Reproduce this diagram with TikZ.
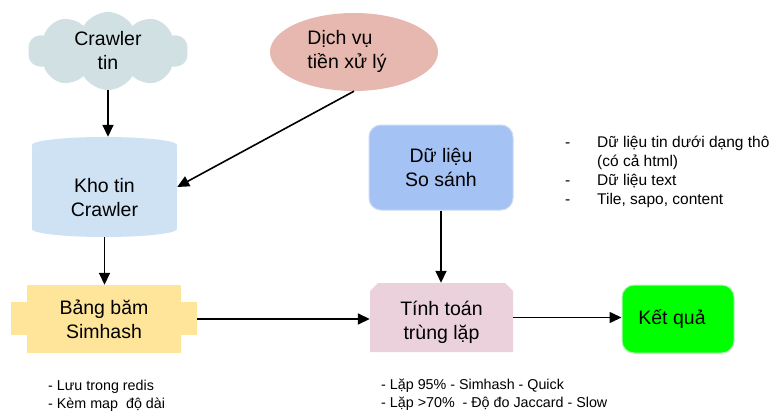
\documentclass[tikz,border=0pt]{standalone}
\usepackage{fontspec}
\setmainfont{Liberation Sans}
\usetikzlibrary{shapes.geometric,shapes.symbols,arrows.meta}
\definecolor{cloudc}{HTML}{D0E0E3}
\definecolor{dichc}{HTML}{E6B8AF}
\definecolor{cylc}{HTML}{CFE2F3}
\definecolor{bangc}{HTML}{FFE599}
\definecolor{duc}{HTML}{A4C2F4}
\definecolor{duborder}{HTML}{C9DAF8}
\definecolor{tinhc}{HTML}{EAD1DC}
\definecolor{kqc}{HTML}{00FF00}
\definecolor{kqborder}{HTML}{B6F5B6}
\begin{document}
\begin{tikzpicture}[x=1pt,y=-1pt,
  main/.style={font=\fontsize{19.5}{24}\selectfont, align=center, inner sep=0pt, text=black},
  listtext/.style={font=\fontsize{15.5}{19}\selectfont, align=left, inner sep=0pt, anchor=west},
  bottomtext/.style={font=\fontsize{14.3}{17.5}\selectfont, align=left, inner sep=0pt, anchor=west},
  arr/.style={-{Triangle[length=12pt,width=11pt]}, line width=1.6pt}]
\useasboundingbox (0,0) rectangle (774,412);
\fill[white] (0,0) rectangle (774,412);
% cloud
\node[main, cloud, cloud puffs=10, cloud puff arc=120, cloud ignores aspect,
  minimum width=160pt, minimum height=78pt, fill=cloudc] (crawl) at (108,51) {Crawler\\tin};
% ellipse
\node[main, ellipse, minimum width=168pt, minimum height=78pt, fill=dichc] (dich) at (354,52)
  {\begin{tabular}{@{}l@{}}Dịch vụ\\tiền xử lý\end{tabular}\hspace*{14pt}};
% cylinder
\fill[cylc] (32,145) rectangle (177,229);
\fill[cylc] (104.5,145) ellipse [x radius=72.5, y radius=8];
\fill[cylc] (104.5,229) ellipse [x radius=72.5, y radius=8];
\node[main, minimum width=145pt, minimum height=100pt] (kho) at (104.5,187)
  {\raisebox{-18pt}[0pt][0pt]{\begin{tabular}{@{}c@{}}Kho tin\\Crawler\end{tabular}}};
% simhash cross shape
\fill[bangc] (27,285) rectangle (181,353);
\fill[bangc] (11,302) rectangle (197,335);
\node[main, minimum width=186pt, minimum height=68pt] (bang) at (104,319) {Bảng băm\\Simhash};
% du lieu so sanh
\node[main, draw=duborder, line width=1pt, fill=duc, rounded corners=12pt,
  minimum width=144pt, minimum height=85pt] (du) at (441,167.5) {Dữ liệu\\So sánh};
% tinh toan
\fill[tinhc] (370,291) -- (378,283) -- (505,283) -- (513,291) -- (513,352) -- (370,352) -- cycle;
\node[main, minimum width=143pt, minimum height=69pt] (tinh) at (441.5,317.5)
  {\raisebox{-10pt}[0pt][0pt]{\begin{tabular}{@{}c@{}}Tính toán\\trùng lặp\end{tabular}}};
% ket qua
\node[main, draw=kqborder, line width=1pt, fill=kqc, rounded corners=12pt,
  minimum width=112pt, minimum height=68pt] (kq) at (678,319) {Kết quả\hspace*{12pt}};
% arrows
\draw[arr] (crawl.south) -- (crawl.south |- kho.north);
\draw[arr] (dich.south) -- (kho.east);
\draw[arr] (kho.south) -- (kho.south |- bang.north);
\draw[arr] (bang.east) -- (bang.east -| tinh.west);
\draw[arr] (du.south) -- (du.south |- tinh.north);
\draw[arr] (tinh.east) -- (tinh.east -| kq.west);
% notes
\node[listtext] (list) at (565,172)
  {\makebox[32pt][l]{-}Dữ liệu tin dưới dạng thô\\
   \hspace*{32pt}(có cả html)\\
   \makebox[32pt][l]{-}Dữ liệu text\\
   \makebox[32pt][l]{-}Tile, sapo, content};
\node[bottomtext] (note1) at (48,396) {- Lưu trong redis\\- Kèm map\ \ độ dài};
\node[bottomtext] (note2) at (381,394.5) {- Lặp 95\% - Simhash - Quick\\- Lặp >70\%\ \ - Độ đo Jaccard - Slow};
\end{tikzpicture}
\end{document}
